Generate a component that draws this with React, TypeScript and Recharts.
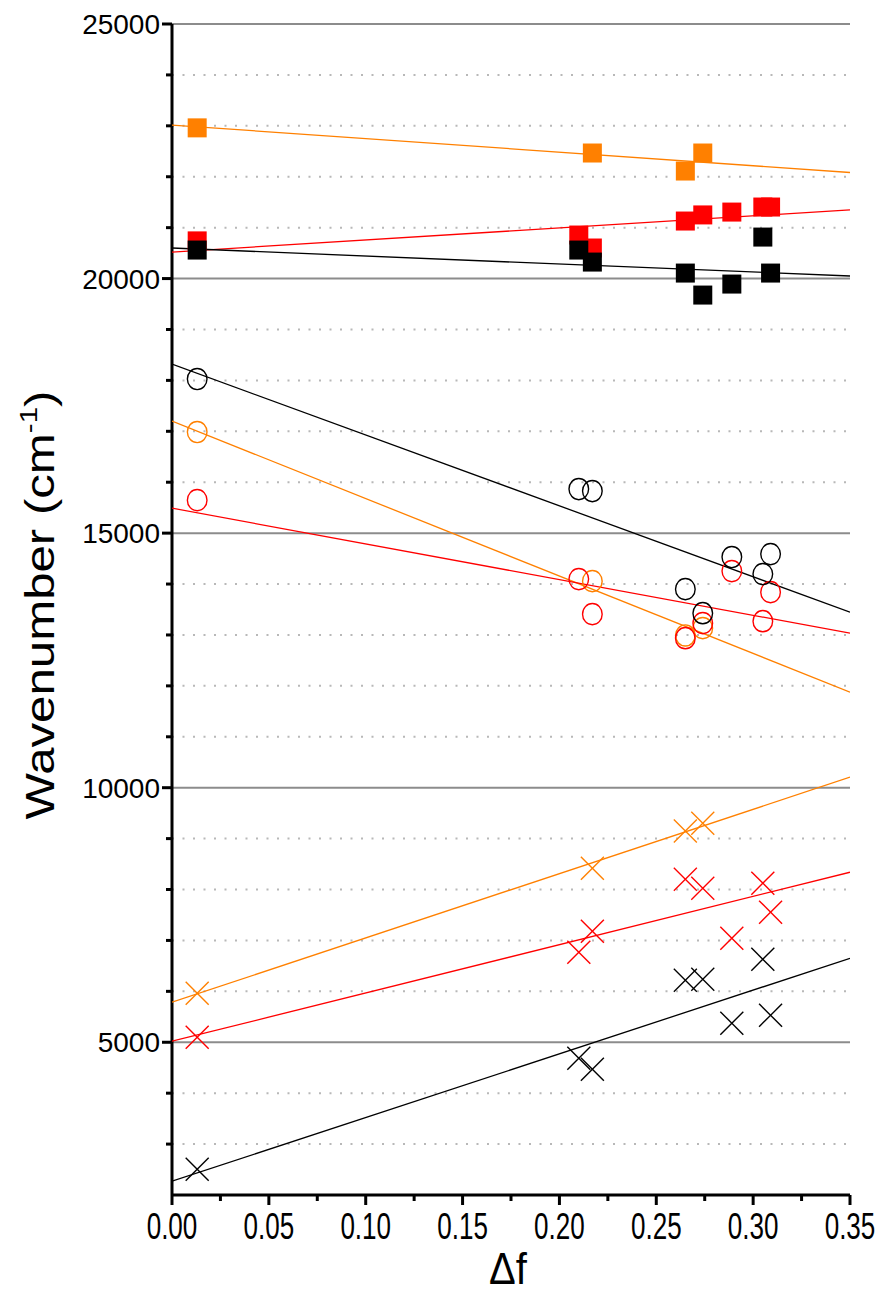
import { ScatterChart, Scatter, XAxis, YAxis, ReferenceLine } from 'recharts';

// solvent polarity parameter of each measured point
const deltaF = [0.013, 0.21, 0.217, 0.265, 0.274, 0.289, 0.305, 0.309];

// filled squares
const sqOrange = [22960, null, 22466, 22112, 22466, null, null, null];
const sqRed = [20740, 20855, 20600, 21130, 21250, 21306, 21405, 21405];
const sqBlack = [20560, 20560, 20324, 20108, 19676, 19892, 20815, 20108];

// open circles
const ciOrange = [16985, null, 14057, 12990, 13134, null, null, null];
const ciRed = [15648, 14097, 13409, 12937, 13232, 14254, 13271, 13841];
const ciBlack = [18026, 15865, 15826, 13900, 13428, 14530, 14195, 14588];

// crosses
const xOrange = [5963, null, 8420, 9150, 9300, null, null, null];
const xRed = [5100, 6770, 7180, 8200, 8025, 7045, 8125, 7555];
const xBlack = [2505, 4686, 4470, 6218, 6238, 5374, 6630, 5530];

// linear fits, values at df = 0 and df = 0.35
const fitX = [0, 0.35];
const fitSqOrange = [23015, 22083];
const fitSqRed = [20521, 21350];
const fitSqBlack = [20600, 20050];
const fitCiOrange = [17200, 11876];
const fitCiRed = [15490, 13035];
const fitCiBlack = [18320, 13448];
const fitXOrange = [5786, 10207];
const fitXRed = [5020, 8340];
const fitXBlack = [2270, 6650];

const xTicks = [0, 0.025, 0.05, 0.075, 0.1, 0.125, 0.15, 0.175, 0.2, 0.225, 0.25, 0.275, 0.3, 0.325, 0.35];
const yTicks = [3000, 4000, 5000, 6000, 7000, 8000, 9000, 10000, 11000, 12000, 13000, 14000, 15000, 16000, 17000, 18000, 19000, 20000, 21000, 22000, 23000, 24000, 25000];
const majorGrid = [5000, 10000, 15000, 20000, 25000];
const minorGrid = [3000, 4000, 6000, 7000, 8000, 9000, 11000, 12000, 13000, 14000, 16000, 17000, 18000, 19000, 21000, 22000, 23000, 24000];

const ORANGE = '#FF8000';
const RED = '#FF0000';
const BLACK = '#000000';
const FONT = '"Liberation Sans", Arial, sans-serif';

const pts = (ys: (number | null)[]) =>
  deltaF.map((x, i) => ({ x, y: ys[i] })).filter((p) => p.y != null);
const fit = (ys: number[]) => fitX.map((x, i) => ({ x, y: ys[i] }));

const square = (color: string) => (p: any) => (
  <rect x={p.cx - 9.5} y={p.cy - 9.5} width={19} height={19} fill={color} />
);
const ring = (color: string) => (p: any) => (
  <ellipse cx={p.cx} cy={p.cy} rx={9.8} ry={10.6} fill="none" stroke={color} strokeWidth={1.4} />
);
const cross = (color: string) => (p: any) => (
  <g stroke={color} strokeWidth={1.4}>
    <line x1={p.cx - 11.5} y1={p.cy - 11.5} x2={p.cx + 11.5} y2={p.cy + 11.5} />
    <line x1={p.cx - 11.5} y1={p.cy + 11.5} x2={p.cx + 11.5} y2={p.cy - 11.5} />
  </g>
);
const noDot = () => <g />;

const markers = [
  { data: sqOrange, shape: square(ORANGE) },
  { data: sqRed, shape: square(RED) },
  { data: sqBlack, shape: square(BLACK) },
  { data: ciOrange, shape: ring(ORANGE) },
  { data: ciRed, shape: ring(RED) },
  { data: ciBlack, shape: ring(BLACK) },
  { data: xOrange, shape: cross(ORANGE) },
  { data: xRed, shape: cross(RED) },
  { data: xBlack, shape: cross(BLACK) },
];

const fits = [
  { data: fitSqOrange, color: ORANGE },
  { data: fitSqRed, color: RED },
  { data: fitSqBlack, color: BLACK },
  { data: fitCiOrange, color: ORANGE },
  { data: fitCiRed, color: RED },
  { data: fitCiBlack, color: BLACK },
  { data: fitXOrange, color: ORANGE },
  { data: fitXRed, color: RED },
  { data: fitXBlack, color: BLACK },
];

const XTick = ({ x, y, payload }: any) => {
  const major = Math.round(payload.value * 1000) % 50 === 0;
  return (
    <g>
      <line x1={x} x2={x} y1={y} y2={y + (major ? 10 : 6)} stroke="#000" strokeWidth={3} />
      {major && (
        <text
          transform={`translate(${x},${y + 44}) scale(0.93,1.3)`}
          textAnchor="middle"
          fontSize={28}
          fontFamily={FONT}
          fill="#000"
        >
          {payload.value.toFixed(2)}
        </text>
      )}
    </g>
  );
};

const YTick = ({ x, y, payload }: any) => {
  const major = payload.value % 5000 === 0;
  return (
    <g>
      <line x1={x} x2={x - (major ? 10 : 6)} y1={y} y2={y} stroke="#000" strokeWidth={3} />
      {major && (
        <text x={x - 12} y={y + 10} textAnchor="end" fontSize={28} fontFamily={FONT} fill="#000">
          {payload.value}
        </text>
      )}
    </g>
  );
};

export default function App() {
  return (
    <div style={{ position: 'absolute', left: 0, top: 0, width: 878, height: 1296, background: '#fff' }}>
      <ScatterChart width={878} height={1296} margin={{ top: 24, right: 28, bottom: 0, left: 0 }}>
        {minorGrid.map((v) => (
          <ReferenceLine key={'m' + v} y={v} stroke="#b8b8b8" strokeWidth={2} strokeDasharray="2 8.5" />
        ))}
        {majorGrid.map((v) => (
          <ReferenceLine key={'M' + v} y={v} stroke="#8c8c8c" strokeWidth={2} />
        ))}
        <XAxis
          type="number"
          dataKey="x"
          domain={[0, 0.35]}
          ticks={xTicks}
          interval={0}
          height={101}
          tickSize={0}
          tickMargin={0}
          tick={<XTick />}
          axisLine={{ stroke: '#000', strokeWidth: 3 }}
          allowDataOverflow
        />
        <YAxis
          type="number"
          dataKey="y"
          domain={[2000, 25000]}
          ticks={yTicks}
          interval={0}
          width={172}
          tickSize={0}
          tickMargin={0}
          tick={<YTick />}
          axisLine={{ stroke: '#000', strokeWidth: 3 }}
          allowDataOverflow
        />
        {fits.map((f, i) => (
          <Scatter
            key={'f' + i}
            data={fit(f.data)}
            line={{ stroke: f.color, strokeWidth: 1.3 }}
            shape={noDot}
            isAnimationActive={false}
          />
        ))}
        {markers.map((m, i) => (
          <Scatter key={'s' + i} data={pts(m.data)} shape={m.shape} isAnimationActive={false} />
        ))}
      </ScatterChart>
      <svg
        width={878}
        height={1296}
        style={{ position: 'absolute', left: 0, top: 0, pointerEvents: 'none' }}
      >
        <text
          transform="translate(508,1284) scale(1,1.1)"
          textAnchor="middle"
          fontSize={40}
          fontFamily={FONT}
          fill="#000"
        >
          Δf
        </text>
        <text
          transform="translate(54,605) rotate(-90) scale(1.23,1)"
          textAnchor="middle"
          fontSize={40}
          fontFamily={FONT}
          fill="#000"
        >
          Wavenumber (cm
          <tspan fontSize={24} dy={-17}>
            -1
          </tspan>
          <tspan dy={17}>)</tspan>
        </text>
      </svg>
    </div>
  );
}
